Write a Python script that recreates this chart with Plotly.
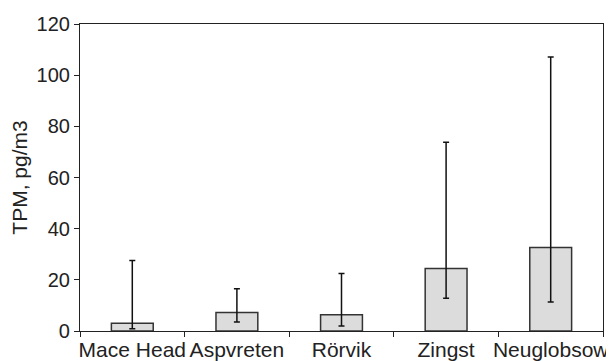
import plotly.graph_objects as go

sites = ["Mace Head", "Aspvreten", "Rörvik", "Zingst", "Neuglobsow"]
tpm_mean = [3.0, 7.2, 6.4, 24.4, 32.6]
tpm_low = [0.9, 3.5, 2.0, 12.8, 11.3]
tpm_high = [27.6, 16.5, 22.5, 73.8, 107.1]
y_ticks = [0, 20, 40, 60, 80, 100, 120]

err_plus = [h - m for h, m in zip(tpm_high, tpm_mean)]
err_minus = [m - l for m, l in zip(tpm_mean, tpm_low)]

font_family = "Liberation Sans, Arial, Helvetica, sans-serif"

fig = go.Figure(
    go.Bar(
        x=sites,
        y=tpm_mean,
        marker=dict(color="#dcdcdc", line=dict(color="#333333", width=1.5)),
        error_y=dict(
            type="data",
            symmetric=False,
            array=err_plus,
            arrayminus=err_minus,
            color="#111111",
            thickness=1.5,
            width=3,
        ),
    )
)

# page body has an 8px default margin, so the figure is sized to fit inside it
fig.update_layout(
    width=606,
    height=353,
    margin=dict(l=72, r=11, t=16, b=30),
    paper_bgcolor="white",
    plot_bgcolor="white",
    bargap=0.6,
    showlegend=False,
    font=dict(family=font_family, color="#222222"),
)

fig.update_xaxes(
    type="category",
    range=[-0.5, 4.5],
    showline=True,
    linecolor="#222222",
    linewidth=1.2,
    mirror=True,
    ticks="outside",
    tickson="boundaries",
    ticklen=5,
    tickcolor="#222222",
    tickfont=dict(size=21),
    tickangle=0,
    automargin=False,
    showgrid=False,
)

fig.update_yaxes(
    range=[0, 120],
    tickvals=y_ticks,
    showline=True,
    linecolor="#222222",
    linewidth=1.2,
    mirror=True,
    ticks="outside",
    ticklen=5,
    tickcolor="#222222",
    tickfont=dict(size=20),
    automargin=False,
    showgrid=False,
    zeroline=False,
    title=dict(text="TPM, pg/m3", font=dict(size=21), standoff=6),
)

fig.write_html("out.html")
